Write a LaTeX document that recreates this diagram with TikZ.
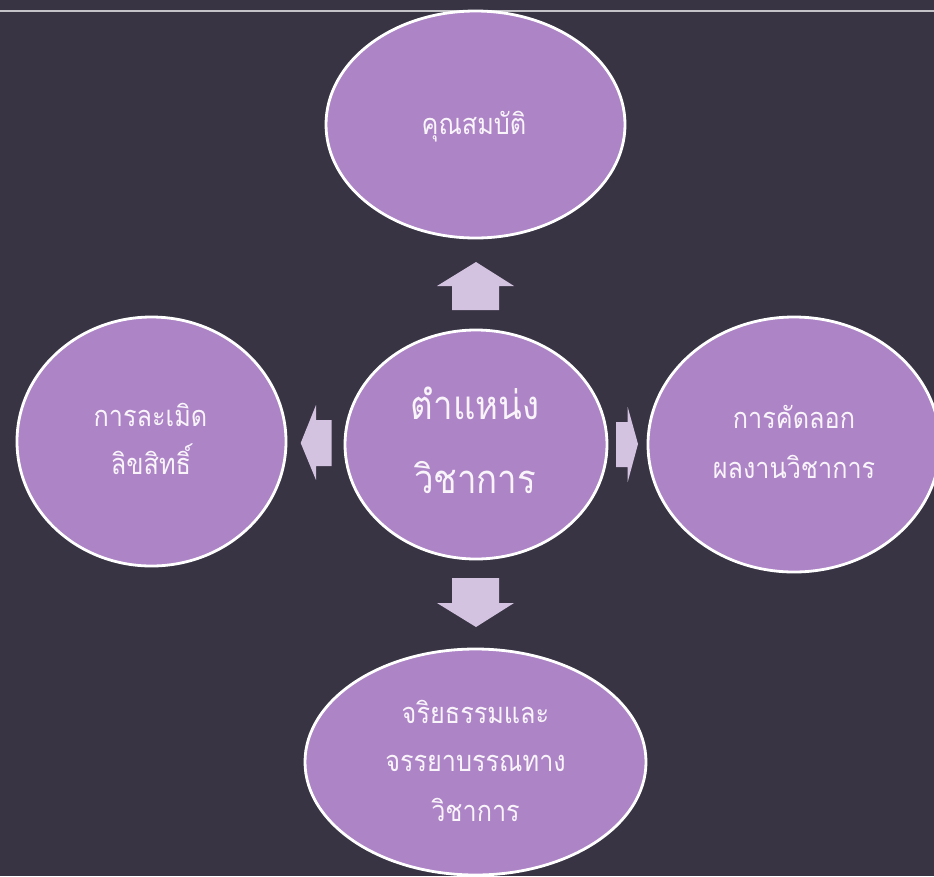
\documentclass[tikz,border=0pt]{standalone}
\usepackage{fontspec}
\newfontfamily\thaifont[Script=Thai,FakeStretch=0.87]{Loma}
\usetikzlibrary{shapes.geometric}
\definecolor{bgc}{RGB}{56,52,68}
\definecolor{ellc}{RGB}{173,132,198}
\definecolor{arrc}{RGB}{211,195,224}
\definecolor{txtc}{RGB}{248,244,250}
\definecolor{linec}{RGB}{196,196,200}
\tikzset{
  bubble/.style={ellipse, draw=white, line width=2.8pt, fill=ellc, inner sep=0pt},
  small/.style={text=txtc, font=\thaifont\fontsize{29}{29}\selectfont, anchor=base, inner sep=0pt},
  big/.style={text=txtc, font=\thaifont\fontsize{40}{40}\selectfont, anchor=base, inner sep=0pt},
  blockarrow/.style={fill=arrc, draw=none}
}
\begin{document}
\begin{tikzpicture}[x=1pt,y=-1pt]
\fill[bgc] (0,0) rectangle (934,876);
\useasboundingbox (0,0) rectangle (934,876);
\draw[linec, line width=1.8pt] (0,10.7) -- (934,10.7);
% ellipses
\node[bubble, minimum width=299pt, minimum height=227pt] (top) at (475.5,124.5) {};
\node[bubble, minimum width=262pt, minimum height=229pt] (ctr) at (476,444.5) {};
\node[bubble, minimum width=269pt, minimum height=249pt] (lft) at (151.5,441.5) {};
\node[bubble, minimum width=292pt, minimum height=255pt] (rgt) at (794,444.5) {};
\node[bubble, minimum width=341pt, minimum height=226pt] (bot) at (475.5,762) {};
% block arrows
\fill[blockarrow] (476,262) -- (514,286) -- (499,286) -- (499,310) -- (452,310) -- (452,286) -- (437,286) -- cycle;
\fill[blockarrow] (476,627) -- (514,603) -- (499,603) -- (499,578) -- (452,578) -- (452,603) -- (437,603) -- cycle;
\fill[blockarrow] (300.7,443) -- (316,405) -- (316,420) -- (331.7,420) -- (331.7,466) -- (316,466) -- (316,480) -- cycle;
\fill[blockarrow] (638,444) -- (627.7,407) -- (627.7,422) -- (616,422) -- (616,467) -- (627.7,467) -- (627.7,482) -- cycle;
% texts
\node[small] (ttop) at (474,134) {คุณสมบัติ};
\node[big] (tc1) at (475,419) {ตำแหน่ง};
\node[big] (tc2) at (475,493) {วิชาการ};
\node[small] (tl1) at (150.5,426) {การละเมิด};
\node[small] (tl2) at (151,474) {ลิขสิทธิ์};
\node[small] (tr1) at (794,428) {การคัดลอก};
\node[small] (tr2) at (794,478) {ผลงานวิชาการ};
\node[small] (tb1) at (475.5,723) {จริยธรรมและ};
\node[small] (tb2) at (475.5,771) {จรรยาบรรณทาง};
\node[small] (tb3) at (475.5,821) {วิชาการ};
\end{tikzpicture}
\end{document}
